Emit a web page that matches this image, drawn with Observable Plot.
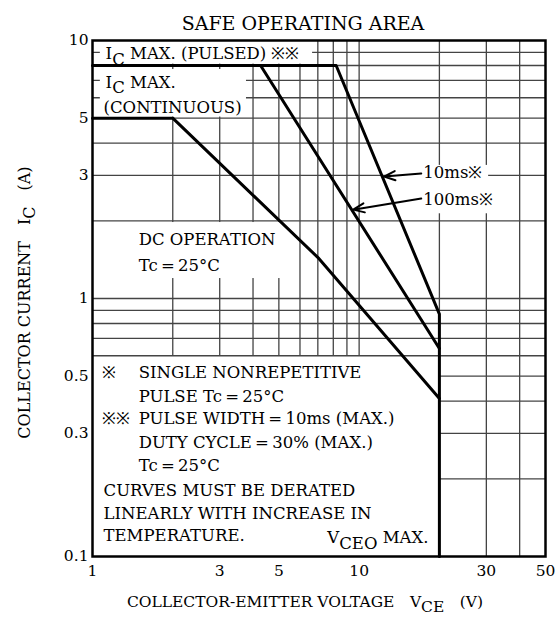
<!DOCTYPE html>
<html><head><meta charset="utf-8">
<script src="https://cdn.jsdelivr.net/npm/d3@7"></script>
<script src="https://cdn.jsdelivr.net/npm/@observablehq/plot@0.6"></script>
<style>
html,body{margin:0;padding:0;background:#fff;}
</style></head><body><div id="chart"></div>
<script>
// ---- texts ----
const title = "SAFE OPERATING AREA";
const xLabel = "COLLECTOR-EMITTER VOLTAGE\u2003V_{CE}\u2003(V)";
const yLabel = "COLLECTOR CURRENT\u2003I_{C}\u2003(A)";
// ---- ticks & grid ----
const xTicks = [1, 3, 5, 10, 30, 50];
const yTicks = [0.1, 0.3, 0.5, 1, 3, 5, 10];
const xGrid = [2, 3, 4, 5, 6, 7, 8, 9, 10, 20, 30, 40];
const yGrid = [0.2, 0.3, 0.4, 0.5, 0.6, 0.7, 0.8, 0.9, 1, 2, 3, 4, 5, 6, 7, 8, 9];
// ---- SOA boundaries (VCE in V, IC in A) ----
const ms10Vce = [1, 8.2, 20, 20];
const ms10Ic = [8, 8, 0.87, 0.1];
const ms100Vce = [4.27, 20];
const ms100Ic = [8, 0.64];
const dcVce = [1, 2, 7.06, 20];
const dcIc = [5, 5, 1.43, 0.41];
const boxBottomIc = 0.6;   // lower-left note box top edge
const vceoMax = 20;

// ---- annotations (data coordinates) ----
const labelBoxes = [
  {x1: 1.07, x2: 6.69, y1: 8.1, y2: 10},
  {x1: 1.07, x2: 3.78, y1: 5.05, y2: 7.72},
  {x1: 1, x2: 5.53, y1: 1.195, y2: 1.97},
  {x1: 13.3, x2: 30.6, y1: 2.13, y2: 3.28}
];
const notes = [
  {t: "I_{C} MAX. (PULSED) ※※", x: 1.12, y: 8.9, a: "start"},
  {t: "I_{C} MAX.", x: 1.12, y: 6.88, a: "start"},
  {t: "(CONTINUOUS)", x: 1.1, y: 5.5, a: "start"},
  {t: "DC OPERATION", x: 1.49, y: 1.69, a: "start"},
  {t: "Tc\u2009=\u200925°C", x: 1.49, y: 1.34, a: "start"},
  {t: "10ms※", x: 17.4, y: 3.08, a: "start"},
  {t: "100ms※", x: 17.4, y: 2.42, a: "start"},
  {t: "※", x: 1.09, y: 0.5165, a: "start"},
  {t: "SINGLE NONREPETITIVE", x: 1.49, y: 0.5165, a: "start"},
  {t: "PULSE Tc\u2009=\u200925°C", x: 1.49, y: 0.417, a: "start"},
  {t: "※※", x: 1.09, y: 0.343, a: "start"},
  {t: "PULSE WIDTH\u2009=\u200910ms (MAX.)", x: 1.49, y: 0.343, a: "start"},
  {t: "DUTY CYCLE\u2009=\u200930% (MAX.)", x: 1.49, y: 0.2766, a: "start"},
  {t: "Tc\u2009=\u200925°C", x: 1.49, y: 0.2254, a: "start"},
  {t: "CURVES MUST BE DERATED", x: 1.1, y: 0.180, a: "start"},
  {t: "LINEARLY WITH INCREASE IN", x: 1.1, y: 0.1468, a: "start"},
  {t: "TEMPERATURE.", x: 1.1, y: 0.1206, a: "start"},
  {t: "V_{CEO} MAX.", x: 18.2, y: 0.118, a: "end"}
];
const arrows = [
  {x1: 17.1, y1: 3.05, x2: 12.4, y2: 2.97},
  {x1: 17.1, y1: 2.44, x2: 9.5, y2: 2.21}
];

const toPts = (xs, ys) => xs.map((x, i) => ({x, y: ys[i]}));
const ink = "#000";
const gridColor = "#444";

const chart = Plot.plot({
  width: 556,
  height: 618,
  marginTop: 40,
  marginBottom: 62,
  marginLeft: 92,
  marginRight: 11,
  style: {fontFamily: "'DejaVu Serif', serif", fontSize: "15px", background: "#fff", color: ink},
  x: {type: "log", domain: [1, 50]},
  y: {type: "log", domain: [0.1, 10]},
  marks: [
    Plot.ruleX(xGrid, {x: d => d, y1: d => d < vceoMax ? boxBottomIc : 0.1, y2: 10, stroke: gridColor, strokeWidth: 1.3}),
    Plot.ruleY(yGrid, {y: d => d, x1: d => d < boxBottomIc ? vceoMax : 1, x2: 50, stroke: gridColor, strokeWidth: 1.3}),
    Plot.rect(labelBoxes, {x1: "x1", x2: "x2", y1: "y1", y2: "y2", fill: "#fff"}),
    Plot.frame({stroke: ink, strokeWidth: 2.5}),
    Plot.axisX({ticks: xTicks, tickSize: 0, tickPadding: 8, tickFormat: d => String(d), label: null, fontSize: 15.5}),
    Plot.axisY({ticks: yTicks, tickSize: 0, tickPadding: 4, tickFormat: d => String(d), label: null, fontSize: 15.5}),
    Plot.line(toPts(dcVce, dcIc), {x: "x", y: "y", stroke: ink, strokeWidth: 3}),
    Plot.line(toPts(ms100Vce, ms100Ic), {x: "x", y: "y", stroke: ink, strokeWidth: 3}),
    Plot.line(toPts(ms10Vce, ms10Ic), {x: "x", y: "y", stroke: ink, strokeWidth: 3}),
    Plot.arrow(arrows, {x1: "x1", y1: "y1", x2: "x2", y2: "y2", stroke: ink, strokeWidth: 2, headLength: 9, headAngle: 45}),
    Plot.text(notes.filter(d => d.a === "start"), {x: "x", y: "y", text: "t", textAnchor: "start", fontSize: 16.5, fill: ink}),
    Plot.text(notes.filter(d => d.a === "end"), {x: "x", y: "y", text: "t", textAnchor: "end", fontSize: 16.5, fill: ink}),
    Plot.text([title], {frameAnchor: "top", dy: -24, dx: -16, text: d => d, fontSize: 19, fill: ink, ariaLabel: "title"}),
    Plot.text([xLabel], {frameAnchor: "bottom", dy: 50, dx: -14, textAnchor: "middle", text: d => d, fontSize: 15.5, fill: ink}),
    Plot.text([yLabel], {frameAnchor: "left", dx: -68, dy: 4, textAnchor: "middle", rotate: -90, text: d => d, fontSize: 16, fill: ink})
  ]
});

// subscripts: "_{...}" -> lowered tspan
chart.querySelectorAll("text").forEach(t => {
  const s = t.textContent;
  if (!s.includes("_{")) return;
  const parts = s.split(/(_\{[^}]*\})/);
  t.textContent = "";
  let shifted = false;
  for (const p of parts) {
    if (!p) continue;
    const ts = document.createElementNS("http://www.w3.org/2000/svg", "tspan");
    if (p.startsWith("_{")) {
      ts.textContent = p.slice(2, -1);
      ts.setAttribute("dy", "0.35em");
      shifted = true;
    } else {
      ts.textContent = p;
      if (shifted) { ts.setAttribute("dy", "-0.35em"); shifted = false; }
    }
    t.appendChild(ts);
  }
});
chart.querySelectorAll('g[aria-label="title"] text').forEach(t => t.style.letterSpacing = "0.6px");

document.getElementById("chart").appendChild(chart);
</script></body></html>
